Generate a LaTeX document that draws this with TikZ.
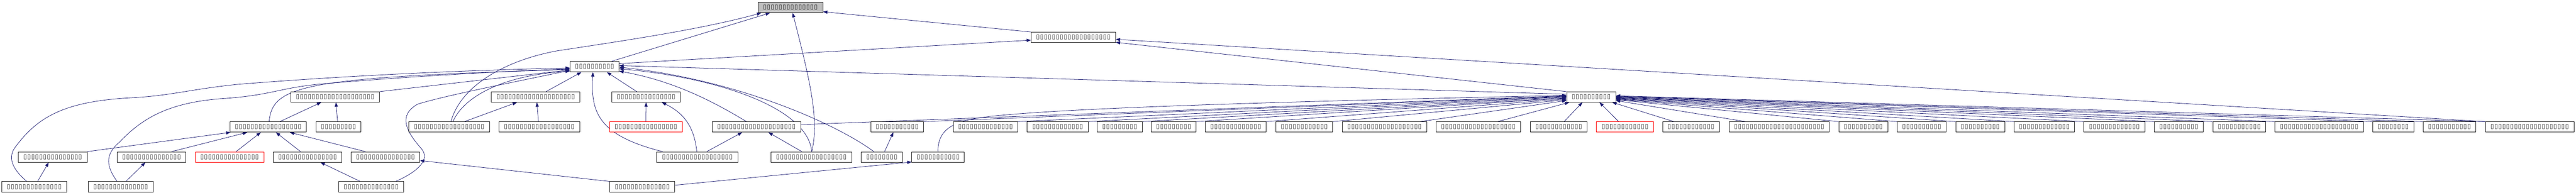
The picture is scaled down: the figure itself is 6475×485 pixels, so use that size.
\documentclass[tikz,border=0pt]{standalone}
\usepackage{fontspec}
\setmainfont{Liberation Sans}
\newfontfamily\tofufont{DejaVu Sans}
\usetikzlibrary{arrows.meta}
\definecolor{edgeblue}{HTML}{191970}
\newcommand\tofus[1]{{\tofufont\fontsize{15.5}{15.5}\selectfont\foreach\k in {1,...,#1}{\makebox[9.9pt]{▯}}}}
\pgfdeclarelayer{bg}
\pgfsetlayers{bg,main}
\tikzset{
  filenode/.style={draw=black!88, line width=1.1pt, fill=white, rectangle, minimum height=26pt, inner sep=0pt, text=black!90},
  rednode/.style={filenode, draw=red},
  topnode/.style={filenode, fill=black!25},
  edgeline/.style={draw=edgeblue, line width=1pt, -{Triangle[length=11pt,width=8pt]}}
}
\begin{document}
\begin{tikzpicture}[x=1pt,y=-1pt]
\useasboundingbox (0,0) rectangle (6475,485);
% rank 0-3
\node[topnode,minimum width=163pt] (T) at (1986.5,19) {\tofus{14}};
\node[filenode,minimum width=212pt] (R1) at (2698,94) {\tofus{19}};
\node[filenode,minimum width=123pt] (H) at (1494.5,168) {\tofus{10}};
\node[filenode,minimum width=223pt] (D1) at (842.5,244) {\tofus{20}};
\node[filenode,minimum width=223pt] (D2) at (1346.5,244) {\tofus{20}};
\node[filenode,minimum width=172pt] (D3) at (1624,244) {\tofus{15}};
\node[filenode,minimum width=123pt] (H2) at (3999.5,244) {\tofus{10}};
% rank 4
\node[filenode,minimum width=192pt] (C1) at (674,319.5) {\tofus{17}};
\node[filenode,minimum width=113pt] (C2) at (850.5,319.5) {\tofus{9}};
\node[filenode,minimum width=204pt] (C3) at (1129,319.5) {\tofus{18}};
\node[filenode,minimum width=203pt] (C4) at (1355.5,319.5) {\tofus{18}};
\node[rednode,minimum width=183pt] (Rb) at (1623.5,319.5) {\tofus{16}};
\node[filenode,minimum width=223pt] (D4) at (1901.5,319.5) {\tofus{20}};
\node[filenode,minimum width=132pt] (G1) at (2255,319.5) {\tofus{11}};
\node[filenode,minimum width=162pt] (G2) at (2477,319.5) {\tofus{14}};
\node[filenode,minimum width=153pt] (G3) at (2658.5,319.5) {\tofus{13}};
\node[filenode,minimum width=113pt] (G4) at (2814.5,319.5) {\tofus{9}};
\node[filenode,minimum width=112pt] (G5) at (2950,319.5) {\tofus{9}};
\node[filenode,minimum width=152pt] (G6) at (3106,319.5) {\tofus{13}};
\node[filenode,minimum width=143pt] (G7) at (3278.5,319.5) {\tofus{12}};
\node[filenode,minimum width=212pt] (G8) at (3480,319.5) {\tofus{19}};
\node[filenode,minimum width=212pt] (G9) at (3716,319.5) {\tofus{19}};
\node[filenode,minimum width=142pt] (G10) at (3918,319.5) {\tofus{12}};
\node[rednode,minimum width=143pt] (G11) at (4084.5,319.5) {\tofus{12}};
\node[filenode,minimum width=143pt] (G12) at (4250.5,319.5) {\tofus{12}};
\node[filenode,minimum width=252pt] (G13) at (4472,319.5) {\tofus{23}};
\node[filenode,minimum width=123pt] (G14) at (4683.5,319.5) {\tofus{10}};
\node[filenode,minimum width=123pt] (G15) at (4830.5,319.5) {\tofus{10}};
\node[filenode,minimum width=123pt] (G16) at (4977.5,319.5) {\tofus{10}};
\node[filenode,minimum width=151pt] (G17) at (5138.5,319.5) {\tofus{13}};
\node[filenode,minimum width=153pt] (G18) at (5314.5,319.5) {\tofus{13}};
\node[filenode,minimum width=123pt] (G19) at (5476.5,319.5) {\tofus{10}};
\node[filenode,minimum width=133pt] (G20) at (5628.5,319.5) {\tofus{11}};
\node[filenode,minimum width=223pt] (G21) at (5829.5,319.5) {\tofus{20}};
\node[filenode,minimum width=103pt] (G22) at (6015.5,319.5) {\tofus{8}};
\node[filenode,minimum width=132pt] (G23) at (6157,319.5) {\tofus{11}};
\node[filenode,minimum width=223pt] (G24) at (6358.5,319.5) {\tofus{20}};
% rank 5
\node[filenode,minimum width=173pt] (A1) at (132.5,395) {\tofus{15}};
\node[filenode,minimum width=172pt] (A2) at (381,395) {\tofus{15}};
\node[rednode,minimum width=172pt] (Ra) at (577,395) {\tofus{15}};
\node[filenode,minimum width=172pt] (A3) at (773,395) {\tofus{15}};
\node[filenode,minimum width=172pt] (A4) at (969,395) {\tofus{15}};
\node[filenode,minimum width=204pt] (E1) at (1753,395) {\tofus{18}};
\node[filenode,minimum width=203pt] (E2) at (2039.5,395) {\tofus{18}};
\node[filenode,minimum width=103pt] (E3) at (2216.5,395) {\tofus{8}};
\node[filenode,minimum width=132pt] (E4) at (2358,395) {\tofus{11}};
% rank 6
\node[filenode,minimum width=164pt] (B1) at (86,470) {\tofus{14}};
\node[filenode,minimum width=163pt] (B2) at (303.5,470) {\tofus{14}};
\node[filenode,minimum width=162pt] (B3) at (933,470) {\tofus{14}};
\node[filenode,minimum width=163pt] (F1) at (1614.5,470) {\tofus{14}};

\begin{pgfonlayer}{bg}
% into T
\draw[edgeline] (R1.north west) -- ([yshift=3pt]T.south east);
\draw[edgeline] ([xshift=104pt]H.north west) -- ([xshift=31pt]T.south west);
\draw[edgeline] ([xshift=107pt]C3.north west) .. controls (1160,210) and (1280,150) .. (1400,128) .. controls (1550,105) and (1760,75) .. ([xshift=9pt]T.south west);
\draw[edgeline] ([xshift=103pt]E2.north west) .. controls (2060,300) and (2035,200) .. ([xshift=88pt]T.south west);
% into R1
\draw[edgeline] ([yshift=8pt]H.east) -- ([yshift=-7pt]R1.west);
\draw[edgeline] (H2.north west) -- ([yshift=1pt]R1.south east);
\draw[edgeline] (G24.north west) -- ([yshift=-5pt]R1.east);
% into H (left)
\draw[edgeline] ([xshift=64pt]B1.north west) .. controls (30,425) and (18,395) .. (40,368) .. controls (95,295) and (160,255) .. (330,246) .. controls (430,241) and (480,224) .. (600,212) .. controls (900,188) and (1200,176) .. ([yshift=-3pt]H.west);
\draw[edgeline] ([xshift=73pt]B2.north west) .. controls (268,420) and (262,390) .. (300,358) .. controls (355,300) and (420,258) .. (560,248) .. controls (680,240) and (700,222) .. (800,212) .. controls (1000,194) and (1250,180) .. ([yshift=-5pt]H.west);
\draw[edgeline] ([xshift=99pt]C1.north west) .. controls (685,215) and (760,195) .. ([yshift=-7pt]H.west);
\draw[edgeline] (D1.north east) -- ([yshift=-8pt]H.west);
\draw[edgeline] ([xshift=143pt]B3.north west) .. controls (1055,430) and (1080,400) .. (1060,375) .. controls (1020,330) and (1000,290) .. (1050,262) .. controls (1120,240) and (1300,205) .. ([yshift=-9pt]H.west);
\draw[edgeline] ([xshift=112pt]C3.north west) .. controls (1165,245) and (1260,190) .. ([yshift=-11pt]H.west);
% into H (below / right)
\draw[edgeline] ([xshift=138pt]D2.north west) -- ([xshift=29pt]H.south west);
\draw[edgeline] ([xshift=15pt]E1.north west) .. controls (1500,340) and (1485,280) .. ([xshift=58pt]H.south west);
\draw[edgeline] ([xshift=63pt]D3.north west) -- ([xshift=93pt]H.south west);
\draw[edgeline] ([yshift=7pt]H2.west) -- ([yshift=3pt]H.east);
\draw[edgeline] ([xshift=32pt]E3.north west) .. controls (2100,310) and (1850,200) .. ([yshift=-1pt]H.east);
\draw[edgeline] ([xshift=103pt]E2.north west) .. controls (2030,270) and (1800,195) .. ([yshift=-5pt]H.east);
\draw[edgeline] ([xshift=87pt]D4.north west) .. controls (1800,260) and (1700,205) .. ([yshift=-11pt]H.east);
% into C1
\draw[edgeline] (A1.north east) -- ([xshift=2pt]C1.south west);
\draw[edgeline] ([xshift=137pt]A2.north west) -- ([xshift=44pt]C1.south west);
\draw[edgeline] ([xshift=103pt]Ra.north west) -- ([xshift=78pt]C1.south west);
\draw[edgeline] ([xshift=69pt]A3.north west) -- ([xshift=116pt]C1.south west);
\draw[edgeline] ([xshift=36pt]A4.north west) -- ([xshift=151pt]C1.south west);
% into D1
\draw[edgeline] ([xshift=126pt]C1.north west) -- ([xshift=77pt]D1.south west);
\draw[edgeline] ([xshift=55pt]C2.north west) -- ([xshift=114pt]D1.south west);
% into rank 5
\draw[edgeline] ([xshift=91pt]B1.north west) -- ([xshift=77pt]A1.south west);
\draw[edgeline] ([xshift=95pt]B2.north west) -- ([xshift=71pt]A2.south west);
\draw[edgeline] ([xshift=54pt]B3.north west) -- ([xshift=119pt]A3.south west);
\draw[edgeline] (F1.north west) -- ([yshift=-9pt]A4.east);
\draw[edgeline] ([yshift=4pt]F1.east) -- ([yshift=1pt]E4.south west);
% into D2
\draw[edgeline] ([xshift=141pt]C3.north west) -- ([xshift=65pt]D2.south west);
\draw[edgeline] ([xshift=100pt]C4.north west) -- ([xshift=115pt]D2.south west);
% into D3
\draw[edgeline] (Rb.north) -- (D3.south);
\draw[edgeline] ([xshift=101pt]E1.north west) .. controls (1745,320) and (1720,285) .. ([xshift=126pt]D3.south west);
% into D4
\draw[edgeline] ([xshift=126pt]E1.north west) -- ([xshift=76pt]D4.south west);
\draw[edgeline] ([xshift=78pt]E2.north west) -- ([xshift=142pt]D4.south west);
% into G1
\draw[edgeline] ([xshift=59pt]E3.north west) -- ([xshift=57pt]G1.south west);
% into H2 from the left
\draw[edgeline] ([yshift=6pt]D4.east) -- ([yshift=3pt]H2.west);
\draw[edgeline] ([xshift=66pt]E4.north west) .. controls (2358,320) and (2400,300) .. (2517,290) .. controls (2640,279) and (2900,262) .. ([yshift=4pt]H2.west);
\draw[edgeline] (G1.north east) -- ([yshift=2pt]H2.west);
\draw[edgeline] (G2.north east) -- ([yshift=1pt]H2.west);
\draw[edgeline] (G3.north east) -- ([yshift=0pt]H2.west);
\draw[edgeline] (G4.north east) -- ([yshift=-2pt]H2.west);
\draw[edgeline] (G5.north east) -- ([yshift=-3pt]H2.west);
\draw[edgeline] (G6.north east) -- ([yshift=-5pt]H2.west);
\draw[edgeline] (G7.north east) -- ([yshift=-7pt]H2.west);
\draw[edgeline] ([xshift=196pt]G8.north west) -- ([yshift=-9pt]H2.west);
\draw[edgeline] ([xshift=155pt]G9.north west) -- ([xshift=7pt]H2.south west);
\draw[edgeline] ([xshift=85pt]G10.north west) -- ([xshift=40pt]H2.south west);
\draw[edgeline] ([xshift=56pt]G11.north west) -- ([xshift=83pt]H2.south west);
\draw[edgeline] ([xshift=29pt]G12.north west) -- ([xshift=115pt]H2.south west);
% into H2 from the right
\draw[edgeline] ([xshift=42pt]G13.north west) -- ([yshift=-9pt]H2.east);
\draw[edgeline] (G14.north west) -- ([yshift=-7pt]H2.east);
\draw[edgeline] (G15.north west) -- ([yshift=-6pt]H2.east);
\draw[edgeline] (G16.north west) -- ([yshift=-5pt]H2.east);
\draw[edgeline] (G17.north west) -- ([yshift=-4pt]H2.east);
\draw[edgeline] (G18.north west) -- ([yshift=-3pt]H2.east);
\draw[edgeline] (G19.north west) -- ([yshift=-2pt]H2.east);
\draw[edgeline] (G20.north west) -- ([yshift=-1pt]H2.east);
\draw[edgeline] (G21.north west) -- ([yshift=0pt]H2.east);
\draw[edgeline] (G22.north west) -- ([yshift=1pt]H2.east);
\draw[edgeline] (G23.north west) -- ([yshift=2pt]H2.east);
\draw[edgeline] (G24.north west) -- ([yshift=3pt]H2.east);
\end{pgfonlayer}
\end{tikzpicture}
\end{document}
